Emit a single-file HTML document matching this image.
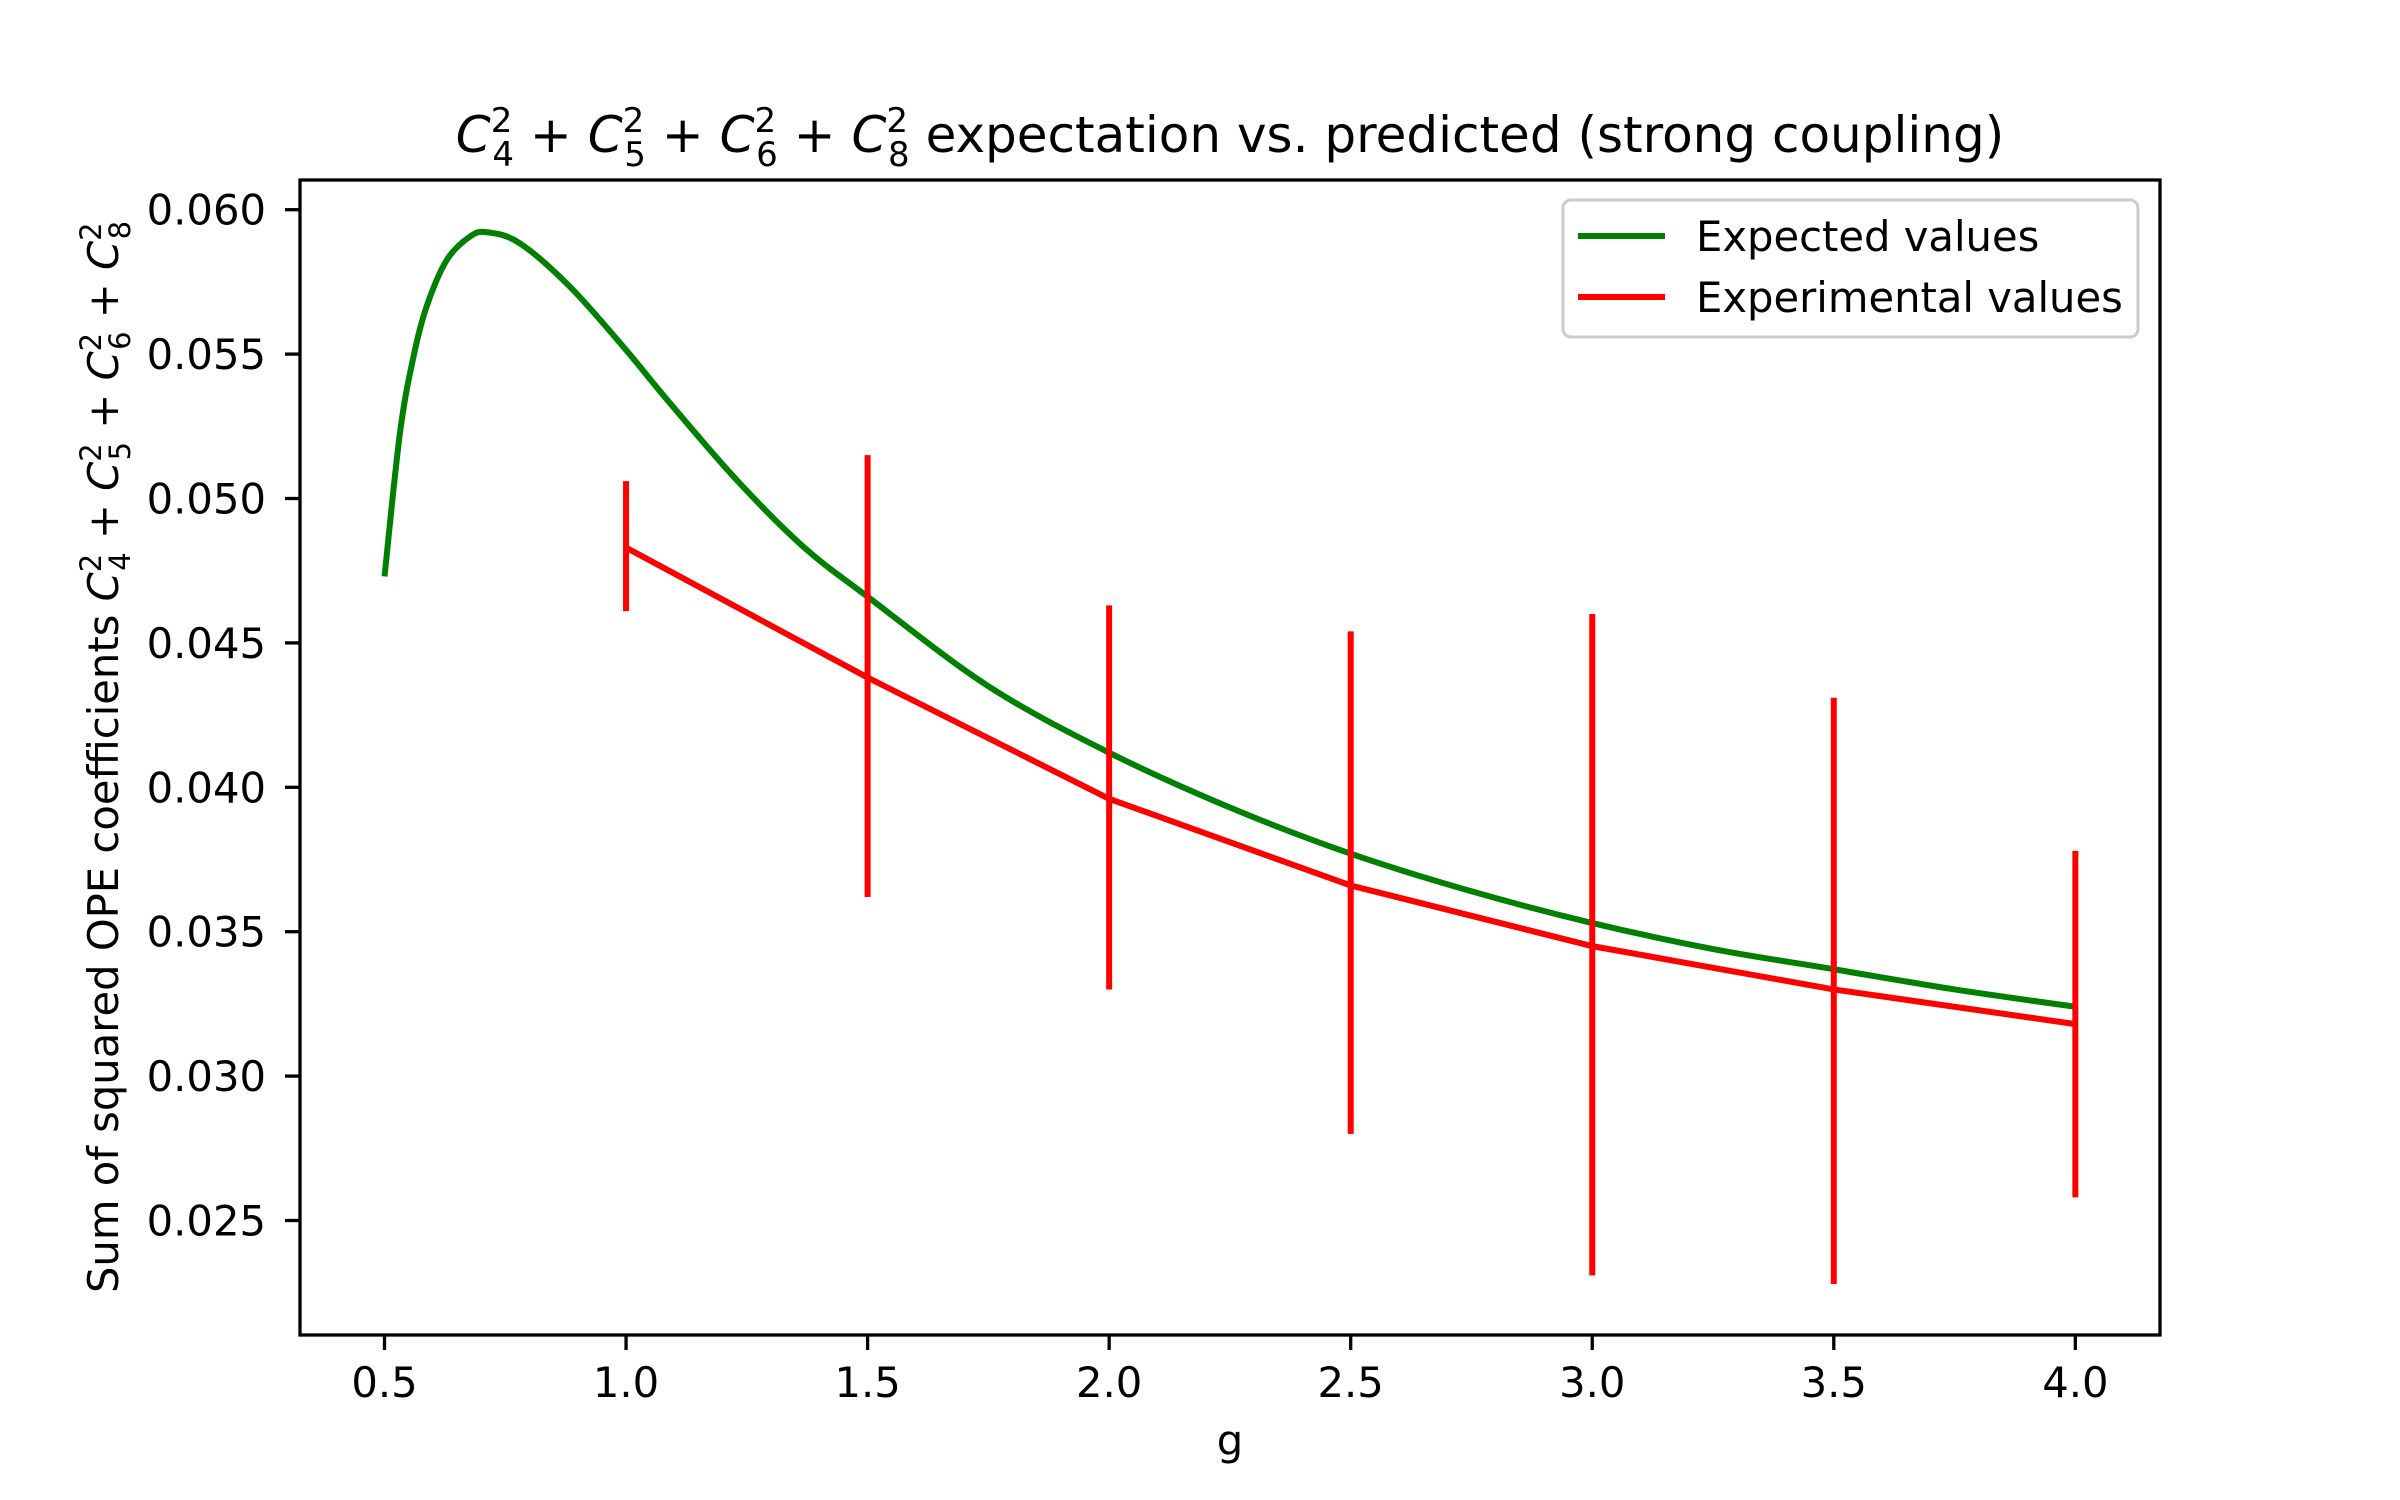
<!DOCTYPE html>
<html><head><meta charset="utf-8"><style>body{margin:0;background:#fff}svg{display:block;font-family:"DejaVu Sans","Liberation Sans",sans-serif}</style></head>
<body>
<svg id="chart" width="2400" height="1500" xmlns="http://www.w3.org/2000/svg">
<rect width="2400" height="1500" fill="#fff"/>
<text x="1230" y="152" font-size="50" text-anchor="middle"><tspan font-style="italic">C</tspan><tspan font-size="34" dy="-20">2</tspan><tspan font-size="34" dx="-20" dy="34">4</tspan><tspan dy="-14"> + </tspan><tspan font-style="italic">C</tspan><tspan font-size="34" dy="-20">2</tspan><tspan font-size="34" dx="-20" dy="34">5</tspan><tspan dy="-14"> + </tspan><tspan font-style="italic">C</tspan><tspan font-size="34" dy="-20">2</tspan><tspan font-size="34" dx="-20" dy="34">6</tspan><tspan dy="-14"> + </tspan><tspan font-style="italic">C</tspan><tspan font-size="34" dy="-20">2</tspan><tspan font-size="34" dx="-20" dy="34">8</tspan><tspan dy="-14"> expectation vs. predicted (strong coupling)</tspan></text>
<g id="plot"></g>
<rect x="300" y="180" width="1860" height="1155" fill="none" stroke="#000" stroke-width="3.3"/>
<text transform="translate(118,757) rotate(-90)" font-size="41.7" text-anchor="middle">Sum of squared OPE coefficients <tspan font-style="italic">C</tspan><tspan font-size="29" dy="-17">2</tspan><tspan font-size="29" dx="-17" dy="29">4</tspan><tspan dy="-12"> + </tspan><tspan font-style="italic">C</tspan><tspan font-size="29" dy="-17">2</tspan><tspan font-size="29" dx="-17" dy="29">5</tspan><tspan dy="-12"> + </tspan><tspan font-style="italic">C</tspan><tspan font-size="29" dy="-17">2</tspan><tspan font-size="29" dx="-17" dy="29">6</tspan><tspan dy="-12"> + </tspan><tspan font-style="italic">C</tspan><tspan font-size="29" dy="-17">2</tspan><tspan font-size="29" dx="-17" dy="29">8</tspan></text>
<text x="1230" y="1455" font-size="41.7" text-anchor="middle">g</text>
<g>
<rect x="1563" y="200" width="575" height="137" rx="8" fill="#fff" stroke="#ccc" stroke-width="3"/>
<line x1="1578" y1="236" x2="1665" y2="236" stroke="green" stroke-width="6"/>
<text x="1696" y="251" font-size="41.7">Expected values</text>
<line x1="1578" y1="297" x2="1665" y2="297" stroke="red" stroke-width="6"/>
<text x="1696" y="312" font-size="41.7">Experimental values</text>
</g>
</svg>
<script>
const expG = [0.5,0.532,0.56,0.587,0.629,0.677,0.712,0.78,0.884,0.994,1.091,1.229,1.367,1.5,1.75,2.0,2.25,2.5,2.75,3.0,3.25,3.5,3.75,4.0];
const expV = [0.0473,0.05227,0.05491,0.05664,0.05826,0.05907,0.05922,0.05884,0.05733,0.05526,0.0533,0.05064,0.04833,0.0466,0.0435,0.0412,0.0393,0.0377,0.0364,0.0353,0.0344,0.0337,0.0330,0.0324];
const obsG = [1.0,1.5,2.0,2.5,3.0,3.5,4.0];
const obsV = [0.0483,0.0438,0.0396,0.0366,0.0345,0.0330,0.0318];
const obsLo = [0.0461,0.0362,0.0330,0.0280,0.0231,0.0228,0.0258];
const obsHi = [0.0506,0.0515,0.0463,0.0454,0.0460,0.0431,0.0378];
const xTicks = [0.5,1.0,1.5,2.0,2.5,3.0,3.5,4.0];
const yTicks = [0.025,0.030,0.035,0.040,0.045,0.050,0.055,0.060];
const X = g => 384.5 + (g - 0.5) * 483.1;
const Y = v => 209.7 + (0.060 - v) / 0.005 * 144.4;
const NS = 'http://www.w3.org/2000/svg';
const plot = document.getElementById('plot');
function mk(tag, attrs, parent) { const e = document.createElementNS(NS, tag); for (const k in attrs) e.setAttribute(k, attrs[k]); (parent || plot).appendChild(e); return e; }
const pts = expG.map((g, i) => [X(g), Y(expV[i])]);
let d = 'M' + pts[0][0] + ',' + pts[0][1];
for (let i = 0; i < pts.length - 1; i++) {
  const p0 = pts[Math.max(0, i - 1)], p1 = pts[i], p2 = pts[i + 1], p3 = pts[Math.min(pts.length - 1, i + 2)];
  d += ' C' + (p1[0] + (p2[0] - p0[0]) / 6) + ',' + (p1[1] + (p2[1] - p0[1]) / 6) + ' ' + (p2[0] - (p3[0] - p1[0]) / 6) + ',' + (p2[1] - (p3[1] - p1[1]) / 6) + ' ' + p2[0] + ',' + p2[1];
}
const ec = mk('path', { d: d, fill: 'none', stroke: 'green', 'stroke-width': 6 });


obsG.forEach((g, i) => {
  const eb = mk('line', { x1: X(g), x2: X(g), y1: Y(obsLo[i]), y2: Y(obsHi[i]), stroke: 'red', 'stroke-width': 6 });
  
  
});
const ol = mk('polyline', { points: obsG.map((g, i) => X(g) + ',' + Y(obsV[i])).join(' '), fill: 'none', stroke: 'red', 'stroke-width': 6 });


xTicks.forEach(t => {
  const tk = mk('line', { x1: X(t), x2: X(t), y1: 1335, y2: 1350, stroke: '#000', 'stroke-width': 3.3 });
  
  
  const tl = mk('text', { x: X(t), y: 1397, 'font-size': 41.7, 'text-anchor': 'middle' });
  tl.textContent = t.toFixed(1);
  
  
});
yTicks.forEach(t => {
  const tk = mk('line', { x1: 285, x2: 300, y1: Y(t), y2: Y(t), stroke: '#000', 'stroke-width': 3.3 });
  
  
  const tl = mk('text', { x: 266, y: Y(t) + 15, 'font-size': 41.7, 'text-anchor': 'end' });
  tl.textContent = t.toFixed(3);
  
  
});
</script>
</body></html>
